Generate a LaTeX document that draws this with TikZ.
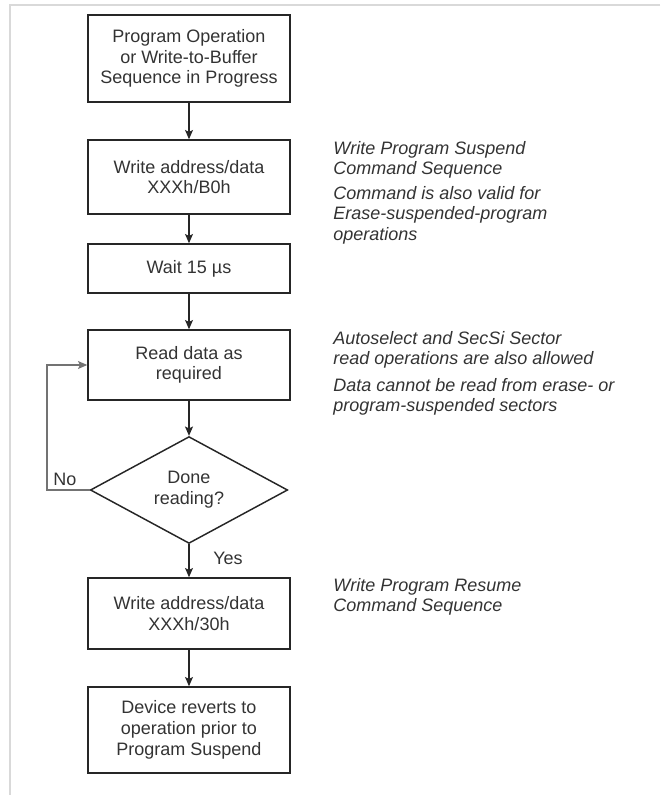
\documentclass[tikz,border=0pt]{standalone}
\usepackage{fontspec}
\setmainfont{Liberation Sans}
\usetikzlibrary{shapes.geometric,arrows.meta}

\begin{document}
\begin{tikzpicture}[x=0.75pt,y=-0.75pt,
  box/.style={draw=black!85,line width=1.1pt,minimum width=151.5pt,inner sep=0pt,
    align=center,text=black!80,font=\fontsize{13.5}{15.5}\selectfont},
  decision/.style={diamond,draw=black!85,line width=1.1pt,minimum width=148pt,minimum height=78pt,
    inner sep=0pt,align=center,text=black!80,font=\fontsize{13.5}{15.5}\selectfont},
  note/.style={anchor=north west,inner sep=0pt,align=left,text=black!80,
    font=\fontsize{13.5}{15.5}\selectfont\itshape},
  flow/.style={draw=black!85,line width=0.9pt,-{Stealth[length=7pt,width=6pt,inset=1.5pt]}},
  lbl/.style={inner sep=0pt,text=black!80,font=\fontsize{13.5}{15}\selectfont}]
\useasboundingbox (0,0) rectangle (660,795);
% page frame
\draw[gray!30,line width=1pt] (660,5) -- (10,5) -- (10,795);

% flow chart
\node[box,minimum height=65pt] (start) at (189,58.5) {Program Operation\\or Write-to-Buffer\\Sequence in Progress};
\node[box,minimum height=55.5pt] (suspend) at (189,177) {Write address/data\\XXXh/B0h};
\node[box,minimum height=36.75pt] (wait) at (189,268.5) {Wait 15 µs};
\node[box,minimum height=52.5pt] (read) at (189,365) {Read data as\\required};
\node[decision] (done) at (189,490) {Done\\reading?};
\node[box,minimum height=53.25pt] (resume) at (189,613.5) {Write address/data\\XXXh/30h};
\node[box,minimum height=64.5pt] (revert) at (189,730) {Device reverts to\\operation prior to\\Program Suspend};

\draw[flow] (start) -- (suspend);
\draw[flow] (suspend) -- (wait);
\draw[flow] (wait) -- (read);
\draw[flow] (read) -- (done);
\draw[flow] (done) -- (resume);
\draw[flow] (resume) -- (revert);
% loop back when not done
\coordinate (back) at (47,490);
\draw[flow,draw=black!55] (done.west) -- (back) |- (read.west);
\node[lbl,anchor=south west] (no) at (53,486) {No};
\node[lbl,anchor=west] (yes) at (213,558) {Yes};

% notes on the right
\node[note] (n1) at (333,141) {Write Program Suspend\\Command Sequence};
\node[note] (n2) at (333,186) {Command is also valid for\\Erase-suspended-program\\operations};
\node[note] (n3) at (333,331) {Autoselect and SecSi Sector\\read operations are also allowed};
\node[note] (n4) at (333,378) {Data cannot be read from erase- or\\program-suspended sectors};
\node[note] (n5) at (333,578) {Write Program Resume\\Command Sequence};
\end{tikzpicture}
\end{document}
